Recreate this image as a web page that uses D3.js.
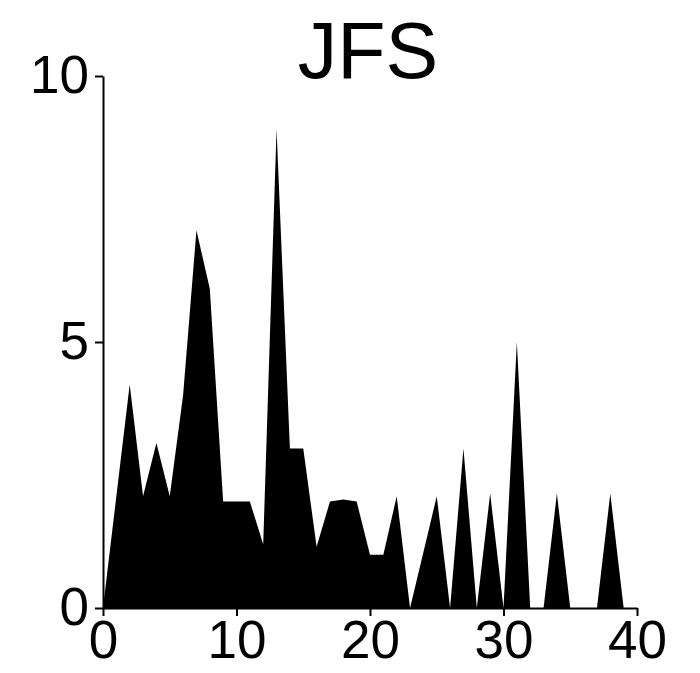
<!DOCTYPE html>
<html>
<head>
<meta charset="utf-8">
<script src="https://cdn.jsdelivr.net/npm/d3@7"></script>
<style>
  body { margin: 0; background: #fff; }
  svg { display: block; }
  .axes path, .axes line { stroke: #000; stroke-width: 2px; }
  .axes text { font-family: "Liberation Sans", Arial, sans-serif; font-size: 53px; fill: #000; }
  .title { font-family: "Liberation Sans", Arial, sans-serif; font-size: 79px; fill: #000; }
</style>
</head>
<body>
<script>
var W = 700, H = 673;
var margin = { top: 76, right: 63, bottom: 65, left: 103 },
    width = W - margin.left - margin.right,
    height = H - margin.top - margin.bottom;

// values, one per x = 0..39
var xs = d3.range(0, 40);
var counts = [0, 2.1, 4.2, 2.1, 3.1, 2.1, 4, 7.1, 6, 2,
              2, 2, 1.2, 9, 3, 3, 1.15, 2, 2.04, 2,
              1, 1, 2.1, 0, 1.05, 2.1, 0, 3, 0, 2.15,
              0, 5, 0, 0, 2.15, 0, 0, 0, 2.15, 0];
var xTicks = [0, 10, 20, 30, 40];
var yTicks = [0, 5, 10];
var title = "JFS";

var data = xs.map(function (x, i) { return { x: x, y: counts[i] }; });

var xScale = d3.scaleLinear().domain([0, 40]).range([0, width]);
var yScale = d3.scaleLinear().domain([0, 10]).range([height, 0]);

var svg = d3.select("body").append("svg")
    .attr("width", W)
    .attr("height", H)
  .append("g")
    .attr("transform", "translate(" + margin.left + "," + margin.top + ")");

// filled area
var area = d3.area()
    .x(function (d) { return xScale(d.x); })
    .y0(yScale(0))
    .y1(function (d) { return yScale(d.y); });

svg.append("path")
    .datum(data)
    .attr("d", area)
    .style("fill", "#000");

// axes
svg.append("g")
    .attr("class", "axes")
    .attr("transform", "translate(0," + height + ")")
    .call(d3.axisBottom(xScale)
        .tickValues(xTicks)
        .tickSize(8)
        .tickSizeOuter(0)
        .tickPadding(4)
        .tickFormat(d3.format("d")));
svg.append("g")
    .attr("class", "axes")
    .call(d3.axisLeft(yScale)
        .tickValues(yTicks)
        .tickSize(8)
        .tickSizeOuter(0)
        .tickPadding(6)
        .tickFormat(d3.format("d")));

// title
svg.append("text")
    .attr("class", "title")
    .attr("x", 368 - margin.left)
    .attr("y", 78 - margin.top)
    .style("text-anchor", "middle")
    .text(title);
</script>
</body>
</html>
